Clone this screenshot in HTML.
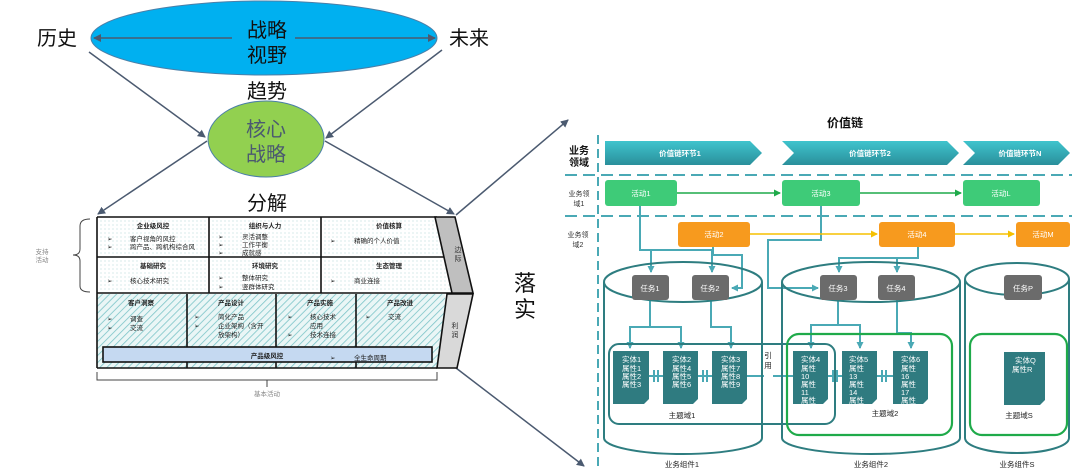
<!DOCTYPE html>
<html><head><meta charset="utf-8"><style>
html,body{margin:0;padding:0;background:#fff;}
svg{display:block;font-family:"Liberation Sans","Noto Sans CJK SC",sans-serif;}
</style></head><body>
<svg width="1080" height="471" viewBox="0 0 1080 471" xmlns="http://www.w3.org/2000/svg">
<defs>
<marker id="ag" markerWidth="8" markerHeight="8" refX="7" refY="4" orient="auto" markerUnits="userSpaceOnUse"><path d="M0,0 L8,4 L0,8 z" fill="#4b5a70"/></marker>
<marker id="at" markerWidth="7" markerHeight="7" refX="6" refY="3.5" orient="auto" markerUnits="userSpaceOnUse"><path d="M0,0 L7,3.5 L0,7 z" fill="#4aa9b5"/></marker>
<marker id="agr" markerWidth="7" markerHeight="7" refX="6" refY="3.5" orient="auto" markerUnits="userSpaceOnUse"><path d="M0,0 L7,3.5 L0,7 z" fill="#1faa4a"/></marker>
<marker id="ay" markerWidth="7" markerHeight="7" refX="6" refY="3.5" orient="auto" markerUnits="userSpaceOnUse"><path d="M0,0 L7,3.5 L0,7 z" fill="#f5c000"/></marker>
<pattern id="dots" width="4" height="4" patternUnits="userSpaceOnUse"><rect width="4" height="4" fill="#fff"/><circle cx="1" cy="1" r="0.5" fill="#9cc"/></pattern>
<pattern id="hatch" width="5" height="5" patternUnits="userSpaceOnUse" patternTransform="rotate(45)"><rect width="5" height="5" fill="#eaf6f6"/><line x1="0" y1="0" x2="0" y2="5" stroke="#7cc4c8" stroke-width="1.6"/></pattern>
<linearGradient id="chev" x1="0" y1="0" x2="0" y2="1"><stop offset="0" stop-color="#3fc4cd"/><stop offset="1" stop-color="#2a8f9b"/></linearGradient>
</defs>

<!-- Top ellipse -->
<ellipse cx="264" cy="38" rx="173" ry="37" fill="#00b0f0" stroke="#4b7fa8" stroke-width="1"/>
<line x1="232" y1="38" x2="94" y2="38" stroke="#4b5a70" stroke-width="1.5" marker-end="url(#ag)"/>
<line x1="295" y1="38" x2="435" y2="38" stroke="#4b5a70" stroke-width="1.5" marker-end="url(#ag)"/>
<text x="267" y="37" font-size="20" text-anchor="middle" fill="#111">战略</text>
<text x="267" y="62" font-size="20" text-anchor="middle" fill="#111">视野</text>
<text x="57" y="45" font-size="20" text-anchor="middle" fill="#111">历史</text>
<text x="469" y="45" font-size="20" text-anchor="middle" fill="#111">未来</text>
<text x="267" y="98" font-size="20" text-anchor="middle" fill="#111">趋势</text>
<line x1="89" y1="52" x2="205" y2="137" stroke="#4b5a70" stroke-width="1.5" marker-end="url(#ag)"/>
<line x1="442" y1="50" x2="326" y2="138" stroke="#4b5a70" stroke-width="1.5" marker-end="url(#ag)"/>
<ellipse cx="266" cy="139" rx="58" ry="38" fill="#92d050" stroke="#4b7fa8" stroke-width="1"/>
<text x="266" y="136" font-size="20" text-anchor="middle" fill="#4b5a70">核心</text>
<text x="266" y="161" font-size="20" text-anchor="middle" fill="#4b5a70">战略</text>
<line x1="207" y1="141" x2="98" y2="214" stroke="#4b5a70" stroke-width="1.5" marker-end="url(#ag)"/>
<line x1="325" y1="141" x2="454" y2="214" stroke="#4b5a70" stroke-width="1.5" marker-end="url(#ag)"/>
<text x="267" y="210" font-size="20" text-anchor="middle" fill="#111">分解</text>
<line x1="456" y1="215" x2="568" y2="120" stroke="#4b5a70" stroke-width="1.5" marker-end="url(#ag)"/>
<line x1="456" y1="368" x2="584" y2="466" stroke="#4b5a70" stroke-width="1.5" marker-end="url(#ag)"/>

<!-- value chain -->
<rect x="97" y="217" width="340" height="76" fill="url(#dots)"/>
<polygon points="437,217 456,217 452,293 437,293" fill="url(#dots)"/>
<rect x="97" y="294" width="348" height="74" fill="url(#hatch)"/>
<g stroke="#111" stroke-width="1.6" fill="none">
<line x1="97" y1="217" x2="437" y2="217"/>
<line x1="97" y1="257" x2="447" y2="257"/>
<line x1="97" y1="293" x2="452" y2="293"/>
<line x1="97" y1="368" x2="437" y2="368"/>
<line x1="97" y1="217" x2="97" y2="368"/>
<line x1="209" y1="217" x2="209" y2="293"/>
<line x1="321" y1="217" x2="321" y2="293"/>
<line x1="187" y1="294" x2="187" y2="368"/>
<line x1="276" y1="294" x2="276" y2="368"/>
<line x1="356" y1="294" x2="356" y2="368"/>
</g>
<polygon points="435,217 455,217 473,293 452,293" fill="#bfbfbf" stroke="#111" stroke-width="1.6"/>
<polygon points="447,294 473,294 457,368 437,368" fill="#d9d9d9" stroke="#111" stroke-width="1.6"/>
<text x="458" y="252" font-size="7" fill="#333" text-anchor="middle">边</text>
<text x="458" y="261" font-size="7" fill="#333" text-anchor="middle">际</text>
<text x="455" y="328" font-size="7" fill="#333" text-anchor="middle">利</text>
<text x="455" y="337" font-size="7" fill="#333" text-anchor="middle">润</text>
<rect x="103" y="347" width="329" height="15" fill="#c5d9f1" stroke="#111" stroke-width="1.6"/>
<g font-size="6.5" fill="#222">
<text x="153" y="228" text-anchor="middle" font-weight="bold">企业级风控</text>
<text x="107" y="241">➢</text><text x="130" y="241">客户视角的风控</text>
<text x="107" y="249">➢</text><text x="130" y="249">跨产品、跨机构综合风</text>
<text x="265" y="228" text-anchor="middle" font-weight="bold">组织与人力</text>
<text x="218" y="239">➢</text><text x="242" y="239">灵活调整</text>
<text x="218" y="247">➢</text><text x="242" y="247">工作平衡</text>
<text x="218" y="255">➢</text><text x="242" y="255">成就感</text>
<text x="389" y="228" text-anchor="middle" font-weight="bold">价值核算</text>
<text x="330" y="243">➢</text><text x="354" y="243">精确的个人价值</text>
<text x="153" y="268" text-anchor="middle" font-weight="bold">基础研究</text>
<text x="107" y="283">➢</text><text x="130" y="283">核心技术研究</text>
<text x="265" y="268" text-anchor="middle" font-weight="bold">环境研究</text>
<text x="218" y="280">➢</text><text x="242" y="280">整体研究</text>
<text x="218" y="289">➢</text><text x="242" y="289">竖群体研究</text>
<text x="389" y="268" text-anchor="middle" font-weight="bold">生态管理</text>
<text x="330" y="283">➢</text><text x="354" y="283">商业连接</text>
<text x="141" y="305" text-anchor="middle" font-weight="bold">客户洞察</text>
<text x="107" y="321">➢</text><text x="130" y="321">调查</text>
<text x="107" y="330">➢</text><text x="130" y="330">交流</text>
<text x="231" y="305" text-anchor="middle" font-weight="bold">产品设计</text>
<text x="194" y="319">➢</text><text x="218" y="319">简化产品</text>
<text x="194" y="328">➢</text><text x="218" y="328">企业架构（含开</text>
<text x="218" y="337">放架构）</text>
<text x="320" y="305" text-anchor="middle" font-weight="bold">产品实施</text>
<text x="287" y="319">➢</text><text x="310" y="319">核心技术</text>
<text x="310" y="328">应用</text>
<text x="287" y="337">➢</text><text x="310" y="337">技术连接</text>
<text x="400" y="305" text-anchor="middle" font-weight="bold">产品改进</text>
<text x="365" y="319">➢</text><text x="388" y="319">交流</text>
<text x="267" y="358" text-anchor="middle" font-weight="bold">产品级风控</text>
<text x="330" y="360">➢</text><text x="354" y="360">全生命周期</text>
</g>
<path d="M90,219 Q80,219 80,226 L80,249 Q80,255 73,255 Q80,255 80,261 L80,286 Q80,292 90,292" fill="none" stroke="#444" stroke-width="1"/>
<text x="42" y="254" font-size="6.5" fill="#888" text-anchor="middle">支持</text>
<text x="42" y="262" font-size="6.5" fill="#888" text-anchor="middle">活动</text>
<path d="M97,372 L97,380 L267,380 L267,387 M267,380 L437,380 L437,372" fill="none" stroke="#444" stroke-width="1"/>
<text x="267" y="396" font-size="6.5" fill="#888" text-anchor="middle">基本活动</text>
<text x="525" y="291" font-size="22" text-anchor="middle" fill="#111">落</text>
<text x="525" y="317" font-size="22" text-anchor="middle" fill="#111">实</text>

<!-- Right diagram -->
<text x="845" y="127" font-size="12" font-weight="bold" text-anchor="middle" fill="#111">价值链</text>
<line x1="598" y1="135" x2="598" y2="471" stroke="#4aa9b5" stroke-width="2" stroke-dasharray="9,5"/>
<line x1="565" y1="175" x2="1072" y2="175" stroke="#4aa9b5" stroke-width="2" stroke-dasharray="12,6"/>
<line x1="565" y1="216" x2="1072" y2="216" stroke="#4aa9b5" stroke-width="2" stroke-dasharray="12,6"/>
<text x="579" y="154" font-size="10" font-weight="bold" text-anchor="middle" fill="#111">业务</text>
<text x="579" y="166" font-size="10" font-weight="bold" text-anchor="middle" fill="#111">领域</text>
<text x="579" y="196" font-size="7" text-anchor="middle" fill="#333">业务领</text>
<text x="579" y="206" font-size="7" text-anchor="middle" fill="#333">域1</text>
<text x="578" y="237" font-size="7" text-anchor="middle" fill="#333">业务领</text>
<text x="578" y="247" font-size="7" text-anchor="middle" fill="#333">域2</text>
<polygon points="605,141 750,141 762,153 750,165 605,165" fill="url(#chev)"/>
<polygon points="782,141 947,141 959,153 947,165 782,165 794,153" fill="url(#chev)"/>
<polygon points="963,141 1058,141 1070,153 1058,165 963,165 975,153" fill="url(#chev)"/>
<g font-size="7.5" fill="#fff" text-anchor="middle" font-weight="bold">
<text x="680" y="156">价值链环节1</text>
<text x="870" y="156">价值链环节2</text>
<text x="1020" y="156">价值链环节N</text>
</g>
<!-- connectors teal -->
<g stroke="#4aa9b5" stroke-width="2" fill="none">
<path d="M640,206 L640,250 L712,250 L712,272" marker-end="url(#at)"/>
<path d="M651,250 L651,272" marker-end="url(#at)"/>
<path d="M713,247 L713,255 L742,255 L742,288 L732,288" marker-end="url(#at)"/>
<path d="M821,206 L821,240 L768,240 L768,288 L818,288" marker-end="url(#at)"/>
<path d="M918,247 L918,258 L839,258 L839,272" marker-end="url(#at)"/>
<path d="M897,258 L897,272" marker-end="url(#at)"/>
<path d="M650,300 L650,327 L630,327 L630,348" marker-end="url(#at)"/>
<path d="M650,327 L681,327 L681,348" marker-end="url(#at)"/>
<path d="M711,300 L711,327 L731,327 L731,348" marker-end="url(#at)"/>
<path d="M838,300 L838,325 L811,325 L811,348" marker-end="url(#at)"/>
<path d="M838,325 L860,325 L860,348" marker-end="url(#at)"/>
<path d="M897,300 L897,333 L911,333 L911,348" marker-end="url(#at)"/>
<path d="M649,376 L663,376 M698,376 L712,376 M747,376 L764,376 M773,376 L793,376 M828,376 L842,376 M877,376 L893,376"/>
<path d="M654,370 L654,382 M658,370 L658,382 M703,370 L703,382 M707,370 L707,382 M833,370 L833,382 M837,370 L837,382 M882,370 L882,382 M886,370 L886,382"/>
</g>
<!-- cylinders -->
<g stroke="#2e7d80" stroke-width="2" fill="none">
<ellipse cx="683" cy="282" rx="79" ry="20"/>
<path d="M604,282 L604,438 A79,16 0 0 0 762,438 L762,282"/>
<ellipse cx="871" cy="282" rx="89" ry="20"/>
<path d="M782,282 L782,438 A89,16 0 0 0 960,438 L960,282"/>
<ellipse cx="1017" cy="279" rx="52" ry="16"/>
<path d="M965,279 L965,438 A52,15 0 0 0 1069,438 L1069,279"/>
<rect x="609" y="344" width="226" height="80" rx="10"/>
</g>
<g stroke="#1faa4a" stroke-width="2.2" fill="none">
<rect x="787" y="334" width="165" height="101" rx="12"/>
<rect x="970" y="334" width="97" height="101" rx="12"/>
</g>
<!-- activities -->
<line x1="677" y1="193" x2="780" y2="193" stroke="#1faa4a" stroke-width="1.5" marker-end="url(#agr)"/>
<line x1="860" y1="193" x2="961" y2="193" stroke="#1faa4a" stroke-width="1.5" marker-end="url(#agr)"/>
<line x1="750" y1="234" x2="877" y2="234" stroke="#f5c000" stroke-width="1.5" marker-end="url(#ay)"/>
<line x1="955" y1="234" x2="1014" y2="234" stroke="#f5c000" stroke-width="1.5" marker-end="url(#ay)"/>
<g fill="#3ecb78"><rect x="605" y="180" width="72" height="26" rx="3"/><rect x="782" y="180" width="78" height="26" rx="3"/><rect x="963" y="180" width="77" height="26" rx="3"/></g>
<g fill="#f79a1e"><rect x="678" y="222" width="72" height="25" rx="3"/><rect x="879" y="222" width="76" height="25" rx="3"/><rect x="1016" y="222" width="54" height="25" rx="3"/></g>
<g font-size="7.5" fill="#fff" text-anchor="middle">
<text x="641" y="196">活动1</text><text x="821" y="196">活动3</text><text x="1001" y="196">活动L</text>
<text x="714" y="237">活动2</text><text x="917" y="237">活动4</text><text x="1043" y="237">活动M</text>
</g>
<!-- tasks -->
<g fill="#6b6b6b"><rect x="632" y="275" width="37" height="25" rx="3"/><rect x="692" y="275" width="37" height="25" rx="3"/><rect x="820" y="275" width="37" height="25" rx="3"/><rect x="878" y="275" width="37" height="25" rx="3"/><rect x="1004" y="275" width="38" height="25" rx="3"/></g>
<g font-size="7.5" fill="#fff" text-anchor="middle">
<text x="650" y="291">任务1</text><text x="710" y="291">任务2</text><text x="838" y="291">任务3</text><text x="896" y="291">任务4</text><text x="1023" y="291">任务P</text>
</g>
<!-- entities -->
<g fill="#2f7b80">
<path d="M613,351 H649 V399 L644,404 H613 Z"/>
<path d="M663,351 H698 V399 L693,404 H663 Z"/>
<path d="M712,351 H747 V399 L742,404 H712 Z"/>
<path d="M793,351 H828 V399 L823,404 H793 Z"/>
<path d="M842,351 H877 V399 L872,404 H842 Z"/>
<path d="M893,351 H928 V399 L923,404 H893 Z"/>
<path d="M1004,352 H1045 V400 L1040,405 H1004 Z"/>
</g>
<g font-size="7.5" fill="#fff">
<text x="622" y="362">实体1</text><text x="622" y="371">属性1</text><text x="622" y="379">属性2</text><text x="622" y="387">属性3</text>
<text x="672" y="362">实体2</text><text x="672" y="371">属性4</text><text x="672" y="379">属性5</text><text x="672" y="387">属性6</text>
<text x="721" y="362">实体3</text><text x="721" y="371">属性7</text><text x="721" y="379">属性8</text><text x="721" y="387">属性9</text>
<text x="801" y="362">实体4</text><text x="801" y="371">属性</text><text x="801" y="379">10</text><text x="801" y="387">属性</text><text x="801" y="395">11</text><text x="801" y="403">属性</text>
<text x="849" y="362">实体5</text><text x="849" y="371">属性</text><text x="849" y="379">13</text><text x="849" y="387">属性</text><text x="849" y="395">14</text><text x="849" y="403">属性</text>
<text x="901" y="362">实体6</text><text x="901" y="371">属性</text><text x="901" y="379">16</text><text x="901" y="387">属性</text><text x="901" y="395">17</text><text x="901" y="403">属性</text>
<text x="1015" y="363">实体Q</text><text x="1012" y="372">属性R</text>
</g>
<g font-size="7.5" fill="#222" text-anchor="middle">
<text x="768" y="358">引</text><text x="768" y="368">用</text>
<text x="682" y="418">主题域1</text><text x="885" y="416">主题域2</text><text x="1019" y="418">主题域S</text>
<text x="682" y="467">业务组件1</text><text x="871" y="467">业务组件2</text><text x="1017" y="467">业务组件S</text>
</g>
</svg>
</body></html>
